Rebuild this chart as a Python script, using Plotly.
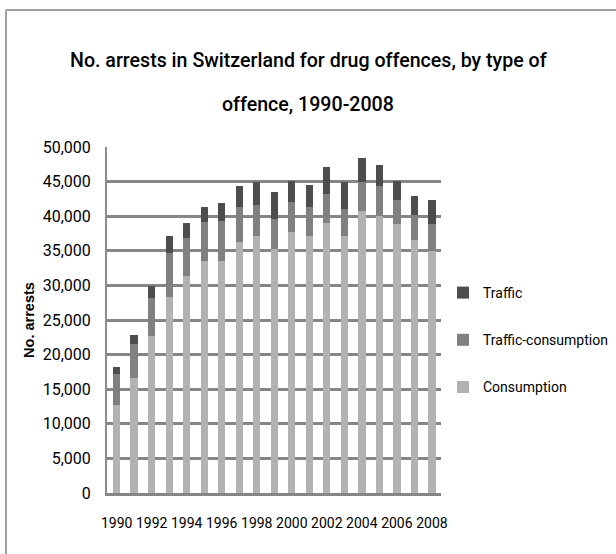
import plotly.graph_objects as go

years = list(range(1990, 2009))
consumption = [12700, 16560, 22680, 28370, 31370, 33580, 33580, 36330, 37160, 35320,
               37740, 37160, 39090, 37160, 40780, 40100, 38850, 36620, 34950]
traffic_consumption = [4480, 4970, 5460, 6290, 5500, 5560, 5790, 5030, 4440, 4300,
                       4380, 4200, 4150, 3910, 4100, 4300, 3520, 3540, 3900]
traffic = [970, 1340, 1830, 2500, 2220, 2120, 2470, 2940, 3280, 3870,
           3000, 3180, 3810, 3810, 3520, 2940, 2750, 2750, 3520]
tick_years = list(range(1990, 2009, 2))
title_lines = ["No. arrests in Switzerland for drug offences, by type of",
               "offence, 1990-2008"]

FONT = "Roboto, Liberation Sans, sans-serif"

PL, PR, PT, PB = 107, 441, 147, 493  # plot area in pixels
W, H = 616, 554
pw, ph = PR - PL, PB - PT

def px_x(x):
    return (x - PL) / pw

def px_y(y):
    return (PB - y) / ph

fig = go.Figure()
series = [("Consumption", consumption, "#b2b2b2", 3),
          ("Traffic-consumption", traffic_consumption, "#808080", 2),
          ("Traffic", traffic, "#4d4d4d", 1)]
for name, vals, col, rank in series:
    fig.add_trace(go.Bar(x=years, y=vals, name=name, width=0.42,
                         marker=dict(color=col, line=dict(width=0)),
                         legendgroup=name, legendrank=rank))

fig.update_layout(
    width=W, height=H,
    barmode="stack",
    plot_bgcolor="white", paper_bgcolor="white",
    margin=dict(l=PL, r=W - PR, t=PT, b=H - PB, autoexpand=False),
    font=dict(family=FONT, color="#000000", size=14),
    legend=dict(x=px_x(443), xanchor="left", y=px_y(340), yanchor="middle",
                traceorder="grouped", tracegroupgap=26,
                font=dict(family=FONT, size=14), itemwidth=30,
                bgcolor="rgba(0,0,0,0)"),
    showlegend=True,
)
for i, (txt, ypx) in enumerate(zip(title_lines, [61, 104])):
    fig.add_annotation(text=txt, xref="paper", yref="paper",
                       x=px_x(308), y=px_y(ypx), xanchor="center", yanchor="middle",
                       showarrow=False,
                       font=dict(family=FONT, size=19.6, color="#000000", weight=500))

fig.update_xaxes(range=[1989.45, 2008.52], tickvals=tick_years,
                 ticktext=[str(y) for y in tick_years], showgrid=False,
                 showline=True, linecolor="#868686", linewidth=3, tickangle=0,
                 ticks="", tickfont=dict(family=FONT, size=14), ticklabelstandoff=15)
fig.update_yaxes(range=[0, 50000], dtick=5000, tickformat=",", showgrid=True,
                 gridcolor="#868686", gridwidth=3, zeroline=False,
                 showline=True, linecolor="#8c8c8c", linewidth=2,
                 ticks="", tickfont=dict(family=FONT, size=16), ticklabelstandoff=11,
                 title=dict(text="<b>No. arrests</b>",
                            font=dict(family="Liberation Sans, sans-serif", size=14.5),
                            standoff=5))
# chart frame (left and top edges)
fig.add_shape(type="line", xref="paper", yref="paper", x0=px_x(6), x1=px_x(6),
              y0=px_y(H + 5), y1=px_y(10), line=dict(color="#a0a0a0", width=2))
fig.add_shape(type="line", xref="paper", yref="paper", x0=px_x(6), x1=px_x(W + 5),
              y0=px_y(10), y1=px_y(10), line=dict(color="#a0a0a0", width=2))

fig.write_html("out.html")
